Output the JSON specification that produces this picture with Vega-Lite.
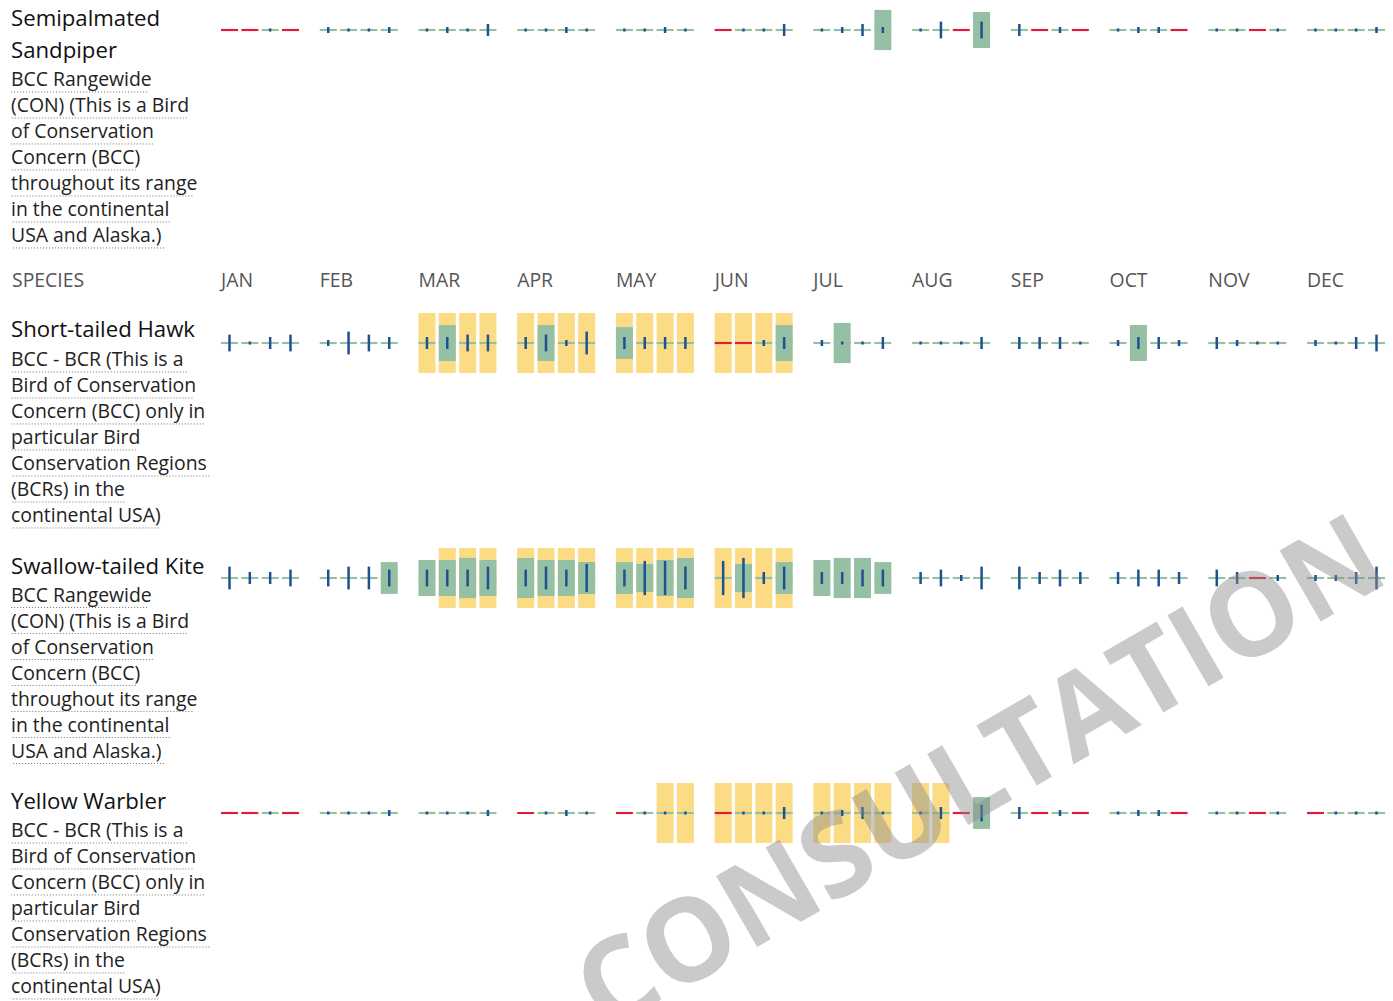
{
"$schema":"https://vega.github.io/schema/vega-lite/v6.json",
"background":"white",
"padding":{"left":10,"top":0,"right":0,"bottom":0},
"config":{"view":{"stroke":null},"font":"Open Sans"},
"columns":2,"align":"each","bounds":"flush","spacing":{"row":15,"column":10},
"resolve":{"scale":{"x":"independent","y":"independent","xOffset":"independent"}},
"datasets":{
"lines":[
{"species":"SESA","kind":"name","line":0,"text":"Semipalmated"},
{"species":"SESA","kind":"name","line":1,"text":"Sandpiper"},
{"species":"SESA","kind":"desc","line":2,"text":"BCC Rangewide"},
{"species":"SESA","kind":"desc","line":3,"text":"(CON) (This is a Bird"},
{"species":"SESA","kind":"desc","line":4,"text":"of Conservation"},
{"species":"SESA","kind":"desc","line":5,"text":"Concern (BCC)"},
{"species":"SESA","kind":"desc","line":6,"text":"throughout its range"},
{"species":"SESA","kind":"desc","line":7,"text":"in the continental"},
{"species":"SESA","kind":"desc","line":8,"text":"USA and Alaska.)"},
{"species":"STHA","kind":"name","line":0,"text":"Short-tailed Hawk"},
{"species":"STHA","kind":"desc","line":1,"text":"BCC - BCR (This is a"},
{"species":"STHA","kind":"desc","line":2,"text":"Bird of Conservation"},
{"species":"STHA","kind":"desc","line":3,"text":"Concern (BCC) only in"},
{"species":"STHA","kind":"desc","line":4,"text":"particular Bird"},
{"species":"STHA","kind":"desc","line":5,"text":"Conservation Regions"},
{"species":"STHA","kind":"desc","line":6,"text":"(BCRs) in the"},
{"species":"STHA","kind":"desc","line":7,"text":"continental USA)"},
{"species":"STKI","kind":"name","line":0,"text":"Swallow-tailed Kite"},
{"species":"STKI","kind":"desc","line":1,"text":"BCC Rangewide"},
{"species":"STKI","kind":"desc","line":2,"text":"(CON) (This is a Bird"},
{"species":"STKI","kind":"desc","line":3,"text":"of Conservation"},
{"species":"STKI","kind":"desc","line":4,"text":"Concern (BCC)"},
{"species":"STKI","kind":"desc","line":5,"text":"throughout its range"},
{"species":"STKI","kind":"desc","line":6,"text":"in the continental"},
{"species":"STKI","kind":"desc","line":7,"text":"USA and Alaska.)"},
{"species":"YEWA","kind":"name","line":0,"text":"Yellow Warbler"},
{"species":"YEWA","kind":"desc","line":1,"text":"BCC - BCR (This is a"},
{"species":"YEWA","kind":"desc","line":2,"text":"Bird of Conservation"},
{"species":"YEWA","kind":"desc","line":3,"text":"Concern (BCC) only in"},
{"species":"YEWA","kind":"desc","line":4,"text":"particular Bird"},
{"species":"YEWA","kind":"desc","line":5,"text":"Conservation Regions"},
{"species":"YEWA","kind":"desc","line":6,"text":"(BCRs) in the"},
{"species":"YEWA","kind":"desc","line":7,"text":"continental USA)"}
],
"cells":[
{"species":"SESA","month":"JAN","week":1,"presence":0,"effort":null,"status":"none","breeding":false},
{"species":"SESA","month":"JAN","week":2,"presence":0,"effort":null,"status":"none","breeding":false},
{"species":"SESA","month":"JAN","week":3,"presence":0,"effort":0.05,"status":"data","breeding":false},
{"species":"SESA","month":"JAN","week":4,"presence":0,"effort":null,"status":"none","breeding":false},
{"species":"SESA","month":"FEB","week":1,"presence":0,"effort":0.1,"status":"data","breeding":false},
{"species":"SESA","month":"FEB","week":2,"presence":0,"effort":0.05,"status":"data","breeding":false},
{"species":"SESA","month":"FEB","week":3,"presence":0,"effort":0.05,"status":"data","breeding":false},
{"species":"SESA","month":"FEB","week":4,"presence":0,"effort":0.1,"status":"data","breeding":false},
{"species":"SESA","month":"MAR","week":1,"presence":0,"effort":0.05,"status":"data","breeding":false},
{"species":"SESA","month":"MAR","week":2,"presence":0,"effort":0.1,"status":"data","breeding":false},
{"species":"SESA","month":"MAR","week":3,"presence":0,"effort":0.05,"status":"data","breeding":false},
{"species":"SESA","month":"MAR","week":4,"presence":0,"effort":0.2,"status":"data","breeding":false},
{"species":"SESA","month":"APR","week":1,"presence":0,"effort":0.05,"status":"data","breeding":false},
{"species":"SESA","month":"APR","week":2,"presence":0,"effort":0.05,"status":"data","breeding":false},
{"species":"SESA","month":"APR","week":3,"presence":0,"effort":0.1,"status":"data","breeding":false},
{"species":"SESA","month":"APR","week":4,"presence":0,"effort":0.05,"status":"data","breeding":false},
{"species":"SESA","month":"MAY","week":1,"presence":0,"effort":0.05,"status":"data","breeding":false},
{"species":"SESA","month":"MAY","week":2,"presence":0,"effort":0.05,"status":"data","breeding":false},
{"species":"SESA","month":"MAY","week":3,"presence":0,"effort":0.1,"status":"data","breeding":false},
{"species":"SESA","month":"MAY","week":4,"presence":0,"effort":0.05,"status":"data","breeding":false},
{"species":"SESA","month":"JUN","week":1,"presence":0,"effort":null,"status":"none","breeding":false},
{"species":"SESA","month":"JUN","week":2,"presence":0,"effort":0.05,"status":"data","breeding":false},
{"species":"SESA","month":"JUN","week":3,"presence":0,"effort":0.05,"status":"data","breeding":false},
{"species":"SESA","month":"JUN","week":4,"presence":0,"effort":0.2,"status":"data","breeding":false},
{"species":"SESA","month":"JUL","week":1,"presence":0,"effort":0.05,"status":"data","breeding":false},
{"species":"SESA","month":"JUL","week":2,"presence":0,"effort":0.1,"status":"data","breeding":false},
{"species":"SESA","month":"JUL","week":3,"presence":0,"effort":0.2,"status":"data","breeding":false},
{"species":"SESA","month":"JUL","week":4,"presence":0.67,"effort":0.1,"status":"data","breeding":false},
{"species":"SESA","month":"AUG","week":1,"presence":0,"effort":0.05,"status":"data","breeding":false},
{"species":"SESA","month":"AUG","week":2,"presence":0,"effort":0.28,"status":"data","breeding":false},
{"species":"SESA","month":"AUG","week":3,"presence":0,"effort":null,"status":"none","breeding":false},
{"species":"SESA","month":"AUG","week":4,"presence":0.6,"effort":0.28,"status":"data","breeding":false},
{"species":"SESA","month":"SEP","week":1,"presence":0,"effort":0.2,"status":"data","breeding":false},
{"species":"SESA","month":"SEP","week":2,"presence":0,"effort":null,"status":"none","breeding":false},
{"species":"SESA","month":"SEP","week":3,"presence":0,"effort":0.1,"status":"data","breeding":false},
{"species":"SESA","month":"SEP","week":4,"presence":0,"effort":null,"status":"none","breeding":false},
{"species":"SESA","month":"OCT","week":1,"presence":0,"effort":0.05,"status":"data","breeding":false},
{"species":"SESA","month":"OCT","week":2,"presence":0,"effort":0.1,"status":"data","breeding":false},
{"species":"SESA","month":"OCT","week":3,"presence":0,"effort":0.1,"status":"data","breeding":false},
{"species":"SESA","month":"OCT","week":4,"presence":0,"effort":null,"status":"none","breeding":false},
{"species":"SESA","month":"NOV","week":1,"presence":0,"effort":0.05,"status":"data","breeding":false},
{"species":"SESA","month":"NOV","week":2,"presence":0,"effort":0.05,"status":"data","breeding":false},
{"species":"SESA","month":"NOV","week":3,"presence":0,"effort":null,"status":"none","breeding":false},
{"species":"SESA","month":"NOV","week":4,"presence":0,"effort":0.05,"status":"data","breeding":false},
{"species":"SESA","month":"DEC","week":1,"presence":0,"effort":0.05,"status":"data","breeding":false},
{"species":"SESA","month":"DEC","week":2,"presence":0,"effort":0.05,"status":"data","breeding":false},
{"species":"SESA","month":"DEC","week":3,"presence":0,"effort":0.05,"status":"data","breeding":false},
{"species":"SESA","month":"DEC","week":4,"presence":0,"effort":0.1,"status":"data","breeding":false},
{"species":"STHA","month":"JAN","week":1,"presence":0,"effort":0.28,"status":"data","breeding":false},
{"species":"STHA","month":"JAN","week":2,"presence":0,"effort":0.05,"status":"data","breeding":false},
{"species":"STHA","month":"JAN","week":3,"presence":0,"effort":0.2,"status":"data","breeding":false},
{"species":"STHA","month":"JAN","week":4,"presence":0,"effort":0.28,"status":"data","breeding":false},
{"species":"STHA","month":"FEB","week":1,"presence":0,"effort":0.1,"status":"data","breeding":false},
{"species":"STHA","month":"FEB","week":2,"presence":0,"effort":0.38,"status":"data","breeding":false},
{"species":"STHA","month":"FEB","week":3,"presence":0,"effort":0.28,"status":"data","breeding":false},
{"species":"STHA","month":"FEB","week":4,"presence":0,"effort":0.2,"status":"data","breeding":false},
{"species":"STHA","month":"MAR","week":1,"presence":0,"effort":0.2,"status":"data","breeding":true},
{"species":"STHA","month":"MAR","week":2,"presence":0.6,"effort":0.2,"status":"data","breeding":true},
{"species":"STHA","month":"MAR","week":3,"presence":0,"effort":0.28,"status":"data","breeding":true},
{"species":"STHA","month":"MAR","week":4,"presence":0,"effort":0.28,"status":"data","breeding":true},
{"species":"STHA","month":"APR","week":1,"presence":0,"effort":0.2,"status":"data","breeding":true},
{"species":"STHA","month":"APR","week":2,"presence":0.6,"effort":0.28,"status":"data","breeding":true},
{"species":"STHA","month":"APR","week":3,"presence":0,"effort":0.1,"status":"data","breeding":true},
{"species":"STHA","month":"APR","week":4,"presence":0,"effort":0.38,"status":"data","breeding":true},
{"species":"STHA","month":"MAY","week":1,"presence":0.53,"effort":0.2,"status":"data","breeding":true},
{"species":"STHA","month":"MAY","week":2,"presence":0,"effort":0.2,"status":"data","breeding":true},
{"species":"STHA","month":"MAY","week":3,"presence":0,"effort":0.2,"status":"data","breeding":true},
{"species":"STHA","month":"MAY","week":4,"presence":0,"effort":0.2,"status":"data","breeding":true},
{"species":"STHA","month":"JUN","week":1,"presence":0,"effort":null,"status":"none","breeding":true},
{"species":"STHA","month":"JUN","week":2,"presence":0,"effort":null,"status":"none","breeding":true},
{"species":"STHA","month":"JUN","week":3,"presence":0,"effort":0.1,"status":"data","breeding":true},
{"species":"STHA","month":"JUN","week":4,"presence":0.6,"effort":0.2,"status":"data","breeding":true},
{"species":"STHA","month":"JUL","week":1,"presence":0,"effort":0.1,"status":"data","breeding":false},
{"species":"STHA","month":"JUL","week":2,"presence":0.67,"effort":0.05,"status":"data","breeding":false},
{"species":"STHA","month":"JUL","week":3,"presence":0,"effort":0.05,"status":"data","breeding":false},
{"species":"STHA","month":"JUL","week":4,"presence":0,"effort":0.2,"status":"data","breeding":false},
{"species":"STHA","month":"AUG","week":1,"presence":0,"effort":0.05,"status":"data","breeding":false},
{"species":"STHA","month":"AUG","week":2,"presence":0,"effort":0.05,"status":"data","breeding":false},
{"species":"STHA","month":"AUG","week":3,"presence":0,"effort":0.05,"status":"data","breeding":false},
{"species":"STHA","month":"AUG","week":4,"presence":0,"effort":0.2,"status":"data","breeding":false},
{"species":"STHA","month":"SEP","week":1,"presence":0,"effort":0.2,"status":"data","breeding":false},
{"species":"STHA","month":"SEP","week":2,"presence":0,"effort":0.2,"status":"data","breeding":false},
{"species":"STHA","month":"SEP","week":3,"presence":0,"effort":0.2,"status":"data","breeding":false},
{"species":"STHA","month":"SEP","week":4,"presence":0,"effort":0.05,"status":"data","breeding":false},
{"species":"STHA","month":"OCT","week":1,"presence":0,"effort":0.1,"status":"data","breeding":false},
{"species":"STHA","month":"OCT","week":2,"presence":0.6,"effort":0.2,"status":"data","breeding":false},
{"species":"STHA","month":"OCT","week":3,"presence":0,"effort":0.2,"status":"data","breeding":false},
{"species":"STHA","month":"OCT","week":4,"presence":0,"effort":0.1,"status":"data","breeding":false},
{"species":"STHA","month":"NOV","week":1,"presence":0,"effort":0.2,"status":"data","breeding":false},
{"species":"STHA","month":"NOV","week":2,"presence":0,"effort":0.1,"status":"data","breeding":false},
{"species":"STHA","month":"NOV","week":3,"presence":0,"effort":0.05,"status":"data","breeding":false},
{"species":"STHA","month":"NOV","week":4,"presence":0,"effort":0.05,"status":"data","breeding":false},
{"species":"STHA","month":"DEC","week":1,"presence":0,"effort":0.1,"status":"data","breeding":false},
{"species":"STHA","month":"DEC","week":2,"presence":0,"effort":0.05,"status":"data","breeding":false},
{"species":"STHA","month":"DEC","week":3,"presence":0,"effort":0.2,"status":"data","breeding":false},
{"species":"STHA","month":"DEC","week":4,"presence":0,"effort":0.28,"status":"data","breeding":false},
{"species":"STKI","month":"JAN","week":1,"presence":0,"effort":0.38,"status":"data","breeding":false},
{"species":"STKI","month":"JAN","week":2,"presence":0,"effort":0.2,"status":"data","breeding":false},
{"species":"STKI","month":"JAN","week":3,"presence":0,"effort":0.2,"status":"data","breeding":false},
{"species":"STKI","month":"JAN","week":4,"presence":0,"effort":0.28,"status":"data","breeding":false},
{"species":"STKI","month":"FEB","week":1,"presence":0,"effort":0.28,"status":"data","breeding":false},
{"species":"STKI","month":"FEB","week":2,"presence":0,"effort":0.38,"status":"data","breeding":false},
{"species":"STKI","month":"FEB","week":3,"presence":0,"effort":0.38,"status":"data","breeding":false},
{"species":"STKI","month":"FEB","week":4,"presence":0.53,"effort":0.28,"status":"data","breeding":false},
{"species":"STKI","month":"MAR","week":1,"presence":0.6,"effort":0.28,"status":"data","breeding":false},
{"species":"STKI","month":"MAR","week":2,"presence":0.6,"effort":0.28,"status":"data","breeding":true},
{"species":"STKI","month":"MAR","week":3,"presence":0.67,"effort":0.28,"status":"data","breeding":true},
{"species":"STKI","month":"MAR","week":4,"presence":0.6,"effort":0.38,"status":"data","breeding":true},
{"species":"STKI","month":"APR","week":1,"presence":0.67,"effort":0.28,"status":"data","breeding":true},
{"species":"STKI","month":"APR","week":2,"presence":0.6,"effort":0.38,"status":"data","breeding":true},
{"species":"STKI","month":"APR","week":3,"presence":0.6,"effort":0.28,"status":"data","breeding":true},
{"species":"STKI","month":"APR","week":4,"presence":0.53,"effort":0.47,"status":"data","breeding":true},
{"species":"STKI","month":"MAY","week":1,"presence":0.53,"effort":0.28,"status":"data","breeding":true},
{"species":"STKI","month":"MAY","week":2,"presence":0.47,"effort":0.57,"status":"data","breeding":true},
{"species":"STKI","month":"MAY","week":3,"presence":0.6,"effort":0.57,"status":"data","breeding":true},
{"species":"STKI","month":"MAY","week":4,"presence":0.67,"effort":0.38,"status":"data","breeding":true},
{"species":"STKI","month":"JUN","week":1,"presence":0,"effort":0.57,"status":"data","breeding":true},
{"species":"STKI","month":"JUN","week":2,"presence":0.47,"effort":0.67,"status":"data","breeding":true},
{"species":"STKI","month":"JUN","week":3,"presence":0,"effort":0.2,"status":"data","breeding":true},
{"species":"STKI","month":"JUN","week":4,"presence":0.53,"effort":0.38,"status":"data","breeding":true},
{"species":"STKI","month":"JUL","week":1,"presence":0.6,"effort":0.2,"status":"data","breeding":false},
{"species":"STKI","month":"JUL","week":2,"presence":0.67,"effort":0.2,"status":"data","breeding":false},
{"species":"STKI","month":"JUL","week":3,"presence":0.67,"effort":0.28,"status":"data","breeding":false},
{"species":"STKI","month":"JUL","week":4,"presence":0.53,"effort":0.28,"status":"data","breeding":false},
{"species":"STKI","month":"AUG","week":1,"presence":0,"effort":0.2,"status":"data","breeding":false},
{"species":"STKI","month":"AUG","week":2,"presence":0,"effort":0.28,"status":"data","breeding":false},
{"species":"STKI","month":"AUG","week":3,"presence":0,"effort":0.1,"status":"data","breeding":false},
{"species":"STKI","month":"AUG","week":4,"presence":0,"effort":0.38,"status":"data","breeding":false},
{"species":"STKI","month":"SEP","week":1,"presence":0,"effort":0.38,"status":"data","breeding":false},
{"species":"STKI","month":"SEP","week":2,"presence":0,"effort":0.2,"status":"data","breeding":false},
{"species":"STKI","month":"SEP","week":3,"presence":0,"effort":0.28,"status":"data","breeding":false},
{"species":"STKI","month":"SEP","week":4,"presence":0,"effort":0.2,"status":"data","breeding":false},
{"species":"STKI","month":"OCT","week":1,"presence":0,"effort":0.2,"status":"data","breeding":false},
{"species":"STKI","month":"OCT","week":2,"presence":0,"effort":0.28,"status":"data","breeding":false},
{"species":"STKI","month":"OCT","week":3,"presence":0,"effort":0.28,"status":"data","breeding":false},
{"species":"STKI","month":"OCT","week":4,"presence":0,"effort":0.2,"status":"data","breeding":false},
{"species":"STKI","month":"NOV","week":1,"presence":0,"effort":0.28,"status":"data","breeding":false},
{"species":"STKI","month":"NOV","week":2,"presence":0,"effort":0.2,"status":"data","breeding":false},
{"species":"STKI","month":"NOV","week":3,"presence":0,"effort":null,"status":"none","breeding":false},
{"species":"STKI","month":"NOV","week":4,"presence":0,"effort":0.1,"status":"data","breeding":false},
{"species":"STKI","month":"DEC","week":1,"presence":0,"effort":0.1,"status":"data","breeding":false},
{"species":"STKI","month":"DEC","week":2,"presence":0,"effort":0.1,"status":"data","breeding":false},
{"species":"STKI","month":"DEC","week":3,"presence":0,"effort":0.2,"status":"data","breeding":false},
{"species":"STKI","month":"DEC","week":4,"presence":0,"effort":0.38,"status":"data","breeding":false},
{"species":"YEWA","month":"JAN","week":1,"presence":0,"effort":null,"status":"none","breeding":false},
{"species":"YEWA","month":"JAN","week":2,"presence":0,"effort":null,"status":"none","breeding":false},
{"species":"YEWA","month":"JAN","week":3,"presence":0,"effort":0.05,"status":"data","breeding":false},
{"species":"YEWA","month":"JAN","week":4,"presence":0,"effort":null,"status":"none","breeding":false},
{"species":"YEWA","month":"FEB","week":1,"presence":0,"effort":0.05,"status":"data","breeding":false},
{"species":"YEWA","month":"FEB","week":2,"presence":0,"effort":0.05,"status":"data","breeding":false},
{"species":"YEWA","month":"FEB","week":3,"presence":0,"effort":0.05,"status":"data","breeding":false},
{"species":"YEWA","month":"FEB","week":4,"presence":0,"effort":0.1,"status":"data","breeding":false},
{"species":"YEWA","month":"MAR","week":1,"presence":0,"effort":0.05,"status":"data","breeding":false},
{"species":"YEWA","month":"MAR","week":2,"presence":0,"effort":0.05,"status":"data","breeding":false},
{"species":"YEWA","month":"MAR","week":3,"presence":0,"effort":0.05,"status":"data","breeding":false},
{"species":"YEWA","month":"MAR","week":4,"presence":0,"effort":0.1,"status":"data","breeding":false},
{"species":"YEWA","month":"APR","week":1,"presence":0,"effort":null,"status":"none","breeding":false},
{"species":"YEWA","month":"APR","week":2,"presence":0,"effort":0.05,"status":"data","breeding":false},
{"species":"YEWA","month":"APR","week":3,"presence":0,"effort":0.1,"status":"data","breeding":false},
{"species":"YEWA","month":"APR","week":4,"presence":0,"effort":0.05,"status":"data","breeding":false},
{"species":"YEWA","month":"MAY","week":1,"presence":0,"effort":null,"status":"none","breeding":false},
{"species":"YEWA","month":"MAY","week":2,"presence":0,"effort":0.05,"status":"data","breeding":false},
{"species":"YEWA","month":"MAY","week":3,"presence":0,"effort":0.05,"status":"data","breeding":true},
{"species":"YEWA","month":"MAY","week":4,"presence":0,"effort":0.05,"status":"data","breeding":true},
{"species":"YEWA","month":"JUN","week":1,"presence":0,"effort":null,"status":"none","breeding":true},
{"species":"YEWA","month":"JUN","week":2,"presence":0,"effort":0.05,"status":"data","breeding":true},
{"species":"YEWA","month":"JUN","week":3,"presence":0,"effort":0.05,"status":"data","breeding":true},
{"species":"YEWA","month":"JUN","week":4,"presence":0,"effort":0.2,"status":"data","breeding":true},
{"species":"YEWA","month":"JUL","week":1,"presence":0,"effort":0.05,"status":"data","breeding":true},
{"species":"YEWA","month":"JUL","week":2,"presence":0,"effort":0.1,"status":"data","breeding":true},
{"species":"YEWA","month":"JUL","week":3,"presence":0,"effort":0.2,"status":"data","breeding":true},
{"species":"YEWA","month":"JUL","week":4,"presence":0,"effort":0.05,"status":"data","breeding":true},
{"species":"YEWA","month":"AUG","week":1,"presence":0,"effort":0.05,"status":"data","breeding":true},
{"species":"YEWA","month":"AUG","week":2,"presence":0,"effort":0.2,"status":"data","breeding":true},
{"species":"YEWA","month":"AUG","week":3,"presence":0,"effort":null,"status":"none","breeding":false},
{"species":"YEWA","month":"AUG","week":4,"presence":0.53,"effort":0.28,"status":"data","breeding":false},
{"species":"YEWA","month":"SEP","week":1,"presence":0,"effort":0.2,"status":"data","breeding":false},
{"species":"YEWA","month":"SEP","week":2,"presence":0,"effort":null,"status":"none","breeding":false},
{"species":"YEWA","month":"SEP","week":3,"presence":0,"effort":0.1,"status":"data","breeding":false},
{"species":"YEWA","month":"SEP","week":4,"presence":0,"effort":null,"status":"none","breeding":false},
{"species":"YEWA","month":"OCT","week":1,"presence":0,"effort":0.05,"status":"data","breeding":false},
{"species":"YEWA","month":"OCT","week":2,"presence":0,"effort":0.1,"status":"data","breeding":false},
{"species":"YEWA","month":"OCT","week":3,"presence":0,"effort":0.1,"status":"data","breeding":false},
{"species":"YEWA","month":"OCT","week":4,"presence":0,"effort":null,"status":"none","breeding":false},
{"species":"YEWA","month":"NOV","week":1,"presence":0,"effort":0.05,"status":"data","breeding":false},
{"species":"YEWA","month":"NOV","week":2,"presence":0,"effort":0.05,"status":"data","breeding":false},
{"species":"YEWA","month":"NOV","week":3,"presence":0,"effort":null,"status":"none","breeding":false},
{"species":"YEWA","month":"NOV","week":4,"presence":0,"effort":0.05,"status":"data","breeding":false},
{"species":"YEWA","month":"DEC","week":1,"presence":0,"effort":null,"status":"none","breeding":false},
{"species":"YEWA","month":"DEC","week":2,"presence":0,"effort":0.05,"status":"data","breeding":false},
{"species":"YEWA","month":"DEC","week":3,"presence":0,"effort":0.05,"status":"data","breeding":false},
{"species":"YEWA","month":"DEC","week":4,"presence":0,"effort":0.05,"status":"data","breeding":false}
]
},
"concat":[
{"width":200,"height":249,"data":{"name":"lines"},"transform":[{"filter":"datum.species=='SESA'"},{"calculate":"18.9*(0.6*length(datum.text)-0.3*(length(datum.text)-length(replace(datum.text,regexp('[iltfrj() .-]','g'),''))))","as":"uw"},{"calculate":"datum.line+0.46","as":"uy"}],
 "resolve":{"scale":{"y":"independent"}},
 "layer":[
  {"transform":[{"filter":"datum.kind=='desc'"}],
   "mark":{"type":"rule","color":"#6f6f6f","strokeDash":[1,2],"strokeWidth":1},
   "encoding":{"x":{"field":"uw","type":"quantitative","scale":{"domain":[0,200],"nice":false,"zero":false},"axis":null},"x2":{"datum":0},"y":{"field":"uy","type":"quantitative","scale":{"domain":[2,8],"range":[80,236],"nice":false,"zero":false},"axis":null}}},
  {"transform":[{"filter":"datum.kind=='desc'"}],
   "mark":{"type":"text","align":"left","baseline":"middle","fontSize":19.4,"color":"#222222"},
   "encoding":{"x":{"datum":0,"type":"quantitative","scale":{"domain":[0,200],"nice":false,"zero":false},"axis":null},"y":{"field":"line","type":"quantitative","scale":{"domain":[2,8],"range":[80,236],"nice":false,"zero":false},"axis":null},"text":{"field":"text"}}},
  {"transform":[{"filter":"datum.kind=='name'"}],
   "mark":{"type":"text","align":"left","baseline":"middle","fontSize":22.2,"color":"#111111"},
   "encoding":{"x":{"datum":0,"type":"quantitative","scale":{"domain":[0,200],"nice":false,"zero":false},"axis":null},"y":{"field":"line","type":"quantitative","scale":{"domain":[0,1],"range":[19,51],"nice":false,"zero":false},"axis":null},"text":{"field":"text"}}}
 ]},
{"width":1164,"height":60,"data":{"name":"cells"},"transform":[{"filter":"datum.species=='SESA'"},{"calculate":"-datum.presence/2","as":"pLo"},{"calculate":"datum.presence/2","as":"pHi"},{"calculate":"-datum.effort/2","as":"eLo"},{"calculate":"datum.effort/2","as":"eHi"}],
 "encoding":{"x":{"field":"month","type":"ordinal","scale":{"type":"band","domain":["JAN","FEB","MAR","APR","MAY","JUN","JUL","AUG","SEP","OCT","NOV","DEC"],"paddingInner":0.21,"paddingOuter":0},"axis":null},
  "xOffset":{"field":"week","type":"ordinal","scale":{"type":"band","domain":[1,2,3,4],"paddingInner":0.164,"paddingOuter":0}}},
 "layer":[
  {"transform":[{"filter":"datum.breeding"}],"mark":{"type":"rect","color":"#fbdb84"},"encoding":{"y":{"datum":-0.5,"type":"quantitative","scale":{"domain":[-0.5,0.5],"nice":false,"zero":false},"axis":null},"y2":{"datum":0.5}}},
  {"transform":[{"filter":"datum.presence>0"}],"mark":{"type":"rect","color":"#96c0a4"},"encoding":{"y":{"field":"pLo","type":"quantitative","scale":{"domain":[-0.5,0.5],"nice":false,"zero":false},"axis":null},"y2":{"field":"pHi"}}},
  {"mark":{"type":"rect"},"encoding":{"y":{"datum":-0.018,"type":"quantitative","scale":{"domain":[-0.5,0.5],"nice":false,"zero":false},"axis":null},"y2":{"datum":0.018},"color":{"field":"status","type":"nominal","scale":{"domain":["data","none"],"range":["#96c0a4","#e41a3c"]},"legend":null}}},
  {"transform":[{"filter":"isValid(datum.effort)"}],"mark":{"type":"rule","color":"#1d5190","strokeWidth":2.5},"encoding":{"y":{"field":"eLo","type":"quantitative","scale":{"domain":[-0.5,0.5],"nice":false,"zero":false},"axis":null},"y2":{"field":"eHi"}}}
 ]},
{"width":200,"height":34,"data":{"values":[{"label":"SPECIES"}]},
 "mark":{"type":"text","align":"left","baseline":"middle","fontSize":19.4,"color":"#555555"},
 "encoding":{"x":{"datum":1,"type":"quantitative","scale":{"domain":[0,200],"nice":false,"zero":false},"axis":null},"text":{"field":"label"}}},
{"width":1164,"height":34,"data":{"name":"cells"},"transform":[{"filter":"datum.species=='SESA' && datum.week==1"}],
 "mark":{"type":"text","align":"left","baseline":"middle","fontSize":19.4,"color":"#555555"},
 "encoding":{"x":{"field":"month","type":"ordinal","bandPosition":0,"scale":{"type":"band","domain":["JAN","FEB","MAR","APR","MAY","JUN","JUL","AUG","SEP","OCT","NOV","DEC"],"paddingInner":0.21,"paddingOuter":0},"axis":null},"text":{"field":"month"}}},
{"width":200,"height":219.5,"data":{"name":"lines"},"transform":[{"filter":"datum.species=='STHA'"},{"calculate":"18.9*(0.6*length(datum.text)-0.3*(length(datum.text)-length(replace(datum.text,regexp('[iltfrj() .-]','g'),''))))","as":"uw"},{"calculate":"datum.line+0.46","as":"uy"}],
 "resolve":{"scale":{"y":"independent"}},
 "layer":[
  {"transform":[{"filter":"datum.kind=='desc'"}],
   "mark":{"type":"rule","color":"#6f6f6f","strokeDash":[1,2],"strokeWidth":1},
   "encoding":{"x":{"field":"uw","type":"quantitative","scale":{"domain":[0,200],"nice":false,"zero":false},"axis":null},"x2":{"datum":0},"y":{"field":"uy","type":"quantitative","scale":{"domain":[1,7],"range":[47,203],"nice":false,"zero":false},"axis":null}}},
  {"transform":[{"filter":"datum.kind=='desc'"}],
   "mark":{"type":"text","align":"left","baseline":"middle","fontSize":19.4,"color":"#222222"},
   "encoding":{"x":{"datum":0,"type":"quantitative","scale":{"domain":[0,200],"nice":false,"zero":false},"axis":null},"y":{"field":"line","type":"quantitative","scale":{"domain":[1,7],"range":[47,203],"nice":false,"zero":false},"axis":null},"text":{"field":"text"}}},
  {"transform":[{"filter":"datum.kind=='name'"}],
   "mark":{"type":"text","align":"left","baseline":"middle","fontSize":22.2,"color":"#111111"},
   "encoding":{"x":{"datum":0,"type":"quantitative","scale":{"domain":[0,200],"nice":false,"zero":false},"axis":null},"y":{"field":"line","type":"quantitative","scale":{"domain":[0,1],"range":[17,49],"nice":false,"zero":false},"axis":null},"text":{"field":"text"}}}
 ]},
{"width":1164,"height":60,"data":{"name":"cells"},"transform":[{"filter":"datum.species=='STHA'"},{"calculate":"-datum.presence/2","as":"pLo"},{"calculate":"datum.presence/2","as":"pHi"},{"calculate":"-datum.effort/2","as":"eLo"},{"calculate":"datum.effort/2","as":"eHi"}],
 "encoding":{"x":{"field":"month","type":"ordinal","scale":{"type":"band","domain":["JAN","FEB","MAR","APR","MAY","JUN","JUL","AUG","SEP","OCT","NOV","DEC"],"paddingInner":0.21,"paddingOuter":0},"axis":null},
  "xOffset":{"field":"week","type":"ordinal","scale":{"type":"band","domain":[1,2,3,4],"paddingInner":0.164,"paddingOuter":0}}},
 "layer":[
  {"transform":[{"filter":"datum.breeding"}],"mark":{"type":"rect","color":"#fbdb84"},"encoding":{"y":{"datum":-0.5,"type":"quantitative","scale":{"domain":[-0.5,0.5],"nice":false,"zero":false},"axis":null},"y2":{"datum":0.5}}},
  {"transform":[{"filter":"datum.presence>0"}],"mark":{"type":"rect","color":"#96c0a4"},"encoding":{"y":{"field":"pLo","type":"quantitative","scale":{"domain":[-0.5,0.5],"nice":false,"zero":false},"axis":null},"y2":{"field":"pHi"}}},
  {"mark":{"type":"rect"},"encoding":{"y":{"datum":-0.018,"type":"quantitative","scale":{"domain":[-0.5,0.5],"nice":false,"zero":false},"axis":null},"y2":{"datum":0.018},"color":{"field":"status","type":"nominal","scale":{"domain":["data","none"],"range":["#96c0a4","#e41a3c"]},"legend":null}}},
  {"transform":[{"filter":"isValid(datum.effort)"}],"mark":{"type":"rule","color":"#1d5190","strokeWidth":2.5},"encoding":{"y":{"field":"eLo","type":"quantitative","scale":{"domain":[-0.5,0.5],"nice":false,"zero":false},"axis":null},"y2":{"field":"eHi"}}}
 ]},
{"width":200,"height":219.5,"data":{"name":"lines"},"transform":[{"filter":"datum.species=='STKI'"},{"calculate":"18.9*(0.6*length(datum.text)-0.3*(length(datum.text)-length(replace(datum.text,regexp('[iltfrj() .-]','g'),''))))","as":"uw"},{"calculate":"datum.line+0.46","as":"uy"}],
 "resolve":{"scale":{"y":"independent"}},
 "layer":[
  {"transform":[{"filter":"datum.kind=='desc'"}],
   "mark":{"type":"rule","color":"#6f6f6f","strokeDash":[1,2],"strokeWidth":1},
   "encoding":{"x":{"field":"uw","type":"quantitative","scale":{"domain":[0,200],"nice":false,"zero":false},"axis":null},"x2":{"datum":0},"y":{"field":"uy","type":"quantitative","scale":{"domain":[1,7],"range":[47.5,203.5],"nice":false,"zero":false},"axis":null}}},
  {"transform":[{"filter":"datum.kind=='desc'"}],
   "mark":{"type":"text","align":"left","baseline":"middle","fontSize":19.4,"color":"#222222"},
   "encoding":{"x":{"datum":0,"type":"quantitative","scale":{"domain":[0,200],"nice":false,"zero":false},"axis":null},"y":{"field":"line","type":"quantitative","scale":{"domain":[1,7],"range":[47.5,203.5],"nice":false,"zero":false},"axis":null},"text":{"field":"text"}}},
  {"transform":[{"filter":"datum.kind=='name'"}],
   "mark":{"type":"text","align":"left","baseline":"middle","fontSize":22.2,"color":"#111111"},
   "encoding":{"x":{"datum":0,"type":"quantitative","scale":{"domain":[0,200],"nice":false,"zero":false},"axis":null},"y":{"field":"line","type":"quantitative","scale":{"domain":[0,1],"range":[18.5,50.5],"nice":false,"zero":false},"axis":null},"text":{"field":"text"}}}
 ]},
{"width":1164,"height":60,"data":{"name":"cells"},"transform":[{"filter":"datum.species=='STKI'"},{"calculate":"-datum.presence/2","as":"pLo"},{"calculate":"datum.presence/2","as":"pHi"},{"calculate":"-datum.effort/2","as":"eLo"},{"calculate":"datum.effort/2","as":"eHi"}],
 "encoding":{"x":{"field":"month","type":"ordinal","scale":{"type":"band","domain":["JAN","FEB","MAR","APR","MAY","JUN","JUL","AUG","SEP","OCT","NOV","DEC"],"paddingInner":0.21,"paddingOuter":0},"axis":null},
  "xOffset":{"field":"week","type":"ordinal","scale":{"type":"band","domain":[1,2,3,4],"paddingInner":0.164,"paddingOuter":0}}},
 "layer":[
  {"transform":[{"filter":"datum.breeding"}],"mark":{"type":"rect","color":"#fbdb84"},"encoding":{"y":{"datum":-0.5,"type":"quantitative","scale":{"domain":[-0.5,0.5],"nice":false,"zero":false},"axis":null},"y2":{"datum":0.5}}},
  {"transform":[{"filter":"datum.presence>0"}],"mark":{"type":"rect","color":"#96c0a4"},"encoding":{"y":{"field":"pLo","type":"quantitative","scale":{"domain":[-0.5,0.5],"nice":false,"zero":false},"axis":null},"y2":{"field":"pHi"}}},
  {"mark":{"type":"rect"},"encoding":{"y":{"datum":-0.018,"type":"quantitative","scale":{"domain":[-0.5,0.5],"nice":false,"zero":false},"axis":null},"y2":{"datum":0.018},"color":{"field":"status","type":"nominal","scale":{"domain":["data","none"],"range":["#96c0a4","#e41a3c"]},"legend":null}}},
  {"transform":[{"filter":"isValid(datum.effort)"}],"mark":{"type":"rule","color":"#1d5190","strokeWidth":2.5},"encoding":{"y":{"field":"eLo","type":"quantitative","scale":{"domain":[-0.5,0.5],"nice":false,"zero":false},"axis":null},"y2":{"field":"eHi"}}}
 ]},
{"width":200,"height":218,"data":{"name":"lines"},"transform":[{"filter":"datum.species=='YEWA'"},{"calculate":"18.9*(0.6*length(datum.text)-0.3*(length(datum.text)-length(replace(datum.text,regexp('[iltfrj() .-]','g'),''))))","as":"uw"},{"calculate":"datum.line+0.46","as":"uy"}],
 "resolve":{"scale":{"y":"independent"}},
 "layer":[
  {"transform":[{"filter":"datum.kind=='desc'"}],
   "mark":{"type":"rule","color":"#6f6f6f","strokeDash":[1,2],"strokeWidth":1},
   "encoding":{"x":{"field":"uw","type":"quantitative","scale":{"domain":[0,200],"nice":false,"zero":false},"axis":null},"x2":{"datum":0},"y":{"field":"uy","type":"quantitative","scale":{"domain":[1,7],"range":[48,204],"nice":false,"zero":false},"axis":null}}},
  {"transform":[{"filter":"datum.kind=='desc'"}],
   "mark":{"type":"text","align":"left","baseline":"middle","fontSize":19.4,"color":"#222222"},
   "encoding":{"x":{"datum":0,"type":"quantitative","scale":{"domain":[0,200],"nice":false,"zero":false},"axis":null},"y":{"field":"line","type":"quantitative","scale":{"domain":[1,7],"range":[48,204],"nice":false,"zero":false},"axis":null},"text":{"field":"text"}}},
  {"transform":[{"filter":"datum.kind=='name'"}],
   "mark":{"type":"text","align":"left","baseline":"middle","fontSize":22.2,"color":"#111111"},
   "encoding":{"x":{"datum":0,"type":"quantitative","scale":{"domain":[0,200],"nice":false,"zero":false},"axis":null},"y":{"field":"line","type":"quantitative","scale":{"domain":[0,1],"range":[19,51],"nice":false,"zero":false},"axis":null},"text":{"field":"text"}}}
 ]},
{"width":1164,"height":60,"data":{"name":"cells"},"transform":[{"filter":"datum.species=='YEWA'"},{"calculate":"-datum.presence/2","as":"pLo"},{"calculate":"datum.presence/2","as":"pHi"},{"calculate":"-datum.effort/2","as":"eLo"},{"calculate":"datum.effort/2","as":"eHi"}],
 "encoding":{"x":{"field":"month","type":"ordinal","scale":{"type":"band","domain":["JAN","FEB","MAR","APR","MAY","JUN","JUL","AUG","SEP","OCT","NOV","DEC"],"paddingInner":0.21,"paddingOuter":0},"axis":null},
  "xOffset":{"field":"week","type":"ordinal","scale":{"type":"band","domain":[1,2,3,4],"paddingInner":0.164,"paddingOuter":0}}},
 "layer":[
  {"transform":[{"filter":"datum.breeding"}],"mark":{"type":"rect","color":"#fbdb84"},"encoding":{"y":{"datum":-0.5,"type":"quantitative","scale":{"domain":[-0.5,0.5],"nice":false,"zero":false},"axis":null},"y2":{"datum":0.5}}},
  {"transform":[{"filter":"datum.presence>0"}],"mark":{"type":"rect","color":"#96c0a4"},"encoding":{"y":{"field":"pLo","type":"quantitative","scale":{"domain":[-0.5,0.5],"nice":false,"zero":false},"axis":null},"y2":{"field":"pHi"}}},
  {"mark":{"type":"rect"},"encoding":{"y":{"datum":-0.018,"type":"quantitative","scale":{"domain":[-0.5,0.5],"nice":false,"zero":false},"axis":null},"y2":{"datum":0.018},"color":{"field":"status","type":"nominal","scale":{"domain":["data","none"],"range":["#96c0a4","#e41a3c"]},"legend":null}}},
  {"transform":[{"filter":"isValid(datum.effort)"}],"mark":{"type":"rule","color":"#1d5190","strokeWidth":2.5},"encoding":{"y":{"field":"eLo","type":"quantitative","scale":{"domain":[-0.5,0.5],"nice":false,"zero":false},"axis":null},"y2":{"field":"eHi"}}},
  {"transform":[{"filter":"datum.month=='AUG' && datum.week==4"}],
   "mark":{"type":"text","text":"CONSULTATION","angle":-30,"fontSize":115,"fontWeight":"bold","color":"#8c8c8c","opacity":0.45,"align":"center","baseline":"middle"},
   "encoding":{"y":{"datum":0.6,"type":"quantitative","scale":{"domain":[-0.5,0.5],"nice":false,"zero":false},"axis":null}}}
 ]}
]
}
